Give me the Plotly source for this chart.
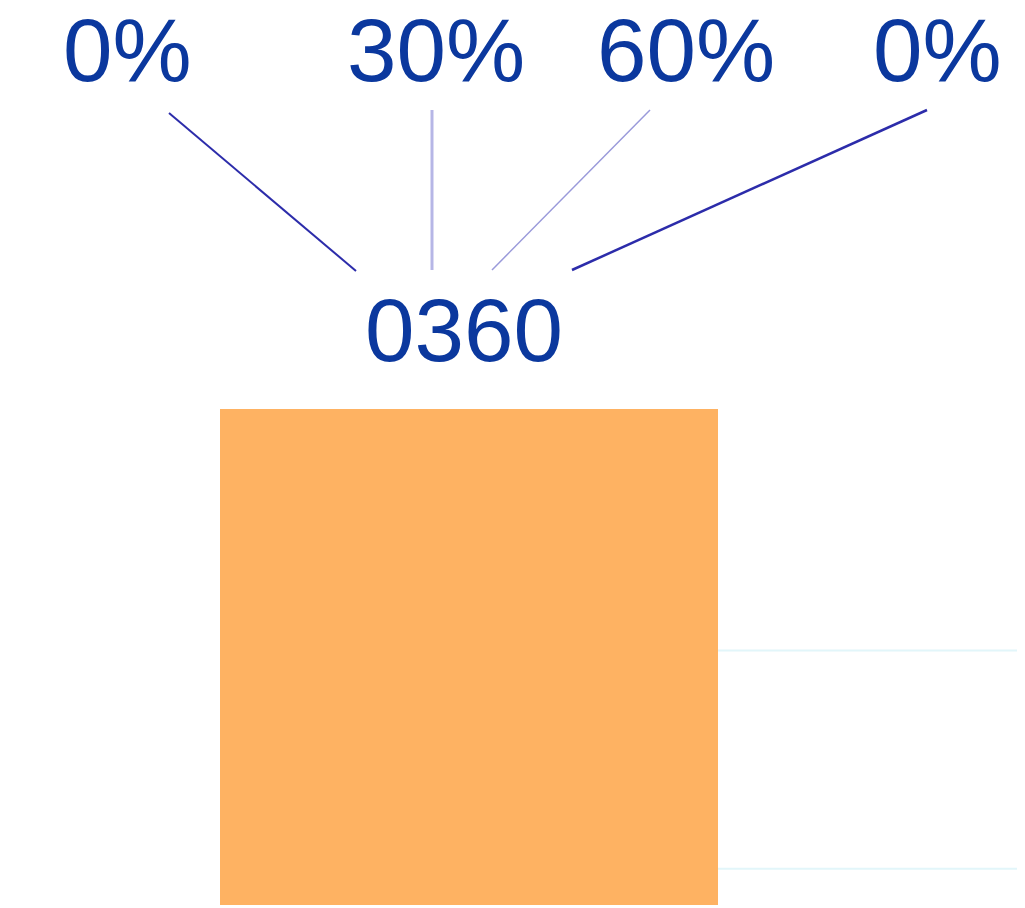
import plotly.graph_objects as go

# values
category = ["0360"]
lower_part = [40.3]
upper_part = [28.0]
grid_values = [5, 35]
share_labels = ["0%", "30%", "60%", "0%"]

# the page puts the figure 8px in from the top-left corner
OFF = 8
W, H = 1025 - OFF, 908 - OFF
bar_color = "#FEB262"
text_color = "#0B389E"


def px(x):
    return (x - OFF) / W


def py(y):
    return 1 - (y - OFF) / H


fig = go.Figure()

fig.add_trace(go.Bar(x=[0], y=lower_part, width=1.0, marker=dict(color=bar_color, line=dict(width=0)),
                     name=category[0], showlegend=False))
fig.add_trace(go.Bar(x=[0], y=upper_part, width=1.0, marker=dict(color=bar_color, line=dict(width=0)),
                     name=category[0], showlegend=False))

# grid lines only show to the right of the bar
shapes = []
for g in grid_values:
    shapes.append(dict(type="line", xref="x", yref="y", x0=0.5, x1=1.2, y0=g, y1=g,
                       line=dict(color="#E2F6FA", width=2), layer="below"))

# leader lines from the share labels down to the category label
label_x = [127, 436, 686, 937]
leaders = [
    ((169, 113), (356, 271), "#2C2CAA", 2),
    ((432, 110), (432, 270), "#B6B6E6", 3),
    ((650, 110), (492, 270), "#9A9ADA", 1.5),
    ((927, 110), (572, 270), "#2C2CAA", 2.5),
]
for (x0, y0), (x1, y1), c, w in leaders:
    shapes.append(dict(type="line", xref="paper", yref="paper",
                       x0=px(x0), y0=py(y0), x1=px(x1), y1=py(y1),
                       line=dict(color=c, width=w)))

annotations = []
for lab, lx in zip(share_labels, label_x):
    annotations.append(dict(text=lab, xref="paper", yref="paper", x=px(lx), y=py(50),
                            xanchor="center", yanchor="middle", showarrow=False,
                            font=dict(family="Liberation Sans, Arial", size=89, color=text_color)))

annotations.append(dict(text=category[0], xref="x", yref="paper", x=0, xshift=-5, y=py(330),
                        xanchor="center", yanchor="middle", showarrow=False,
                        font=dict(family="Liberation Sans, Arial", size=89, color=text_color)))

fig.update_layout(
    width=W, height=H,
    margin=dict(l=0, r=0, t=0, b=0),
    paper_bgcolor="white", plot_bgcolor="white",
    barmode="stack", bargap=0,
    xaxis=dict(range=[-0.9257, 1.1165], visible=False, showgrid=False, zeroline=False),
    yaxis=dict(range=[-0.41, 123.4], visible=False, showgrid=False, zeroline=False),
    shapes=shapes,
    annotations=annotations,
)

fig.write_html("out.html")
